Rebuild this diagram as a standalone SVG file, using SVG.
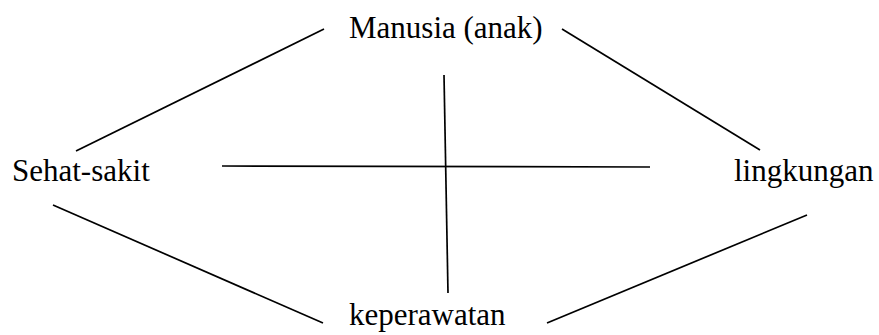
<svg xmlns="http://www.w3.org/2000/svg" width="879" height="335" viewBox="0 0 879 335">
<style>
.lbl{font-family:"Liberation Serif","Times New Roman",serif;font-size:31px;fill:#000}
.ln{stroke:#000;stroke-width:1.7;fill:none}
</style>
<rect width="879" height="335" fill="#fff"/>
<g id="connectors">
<line class="ln" x1="76" y1="151" x2="324" y2="29"/>
<line class="ln" x1="562" y1="29" x2="760" y2="150"/>
<line class="ln" x1="222" y1="166" x2="650" y2="167"/>
<line class="ln" x1="444" y1="75" x2="448" y2="293"/>
<line class="ln" x1="53" y1="205" x2="323" y2="323"/>
<line class="ln" x1="547" y1="323" x2="807" y2="215"/>
</g>
<g id="manusia"><text class="lbl" x="349" y="38">Manusia (anak)</text></g>
<g id="sehat"><text class="lbl" x="12" y="181">Sehat-sakit</text></g>
<g id="lingkungan"><text class="lbl" x="734" y="181">lingkungan</text></g>
<g id="keperawatan"><text class="lbl" x="349" y="325">keperawatan</text></g>
</svg>
